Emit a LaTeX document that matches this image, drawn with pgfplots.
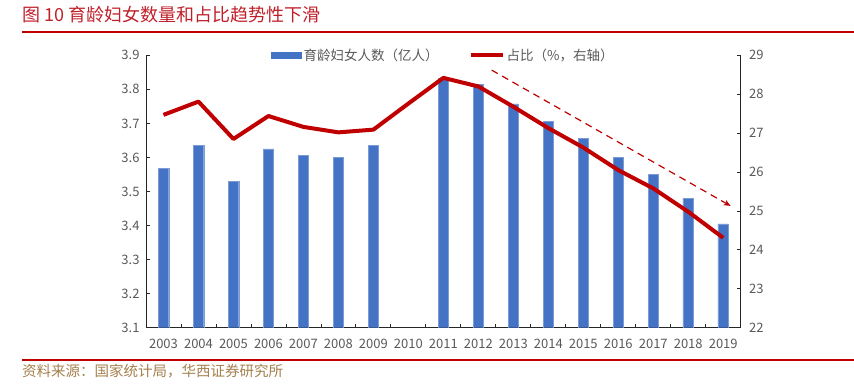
\documentclass[border=0pt]{standalone}
\usepackage{fontspec}
\setmainfont{Noto Sans CJK SC}
\usepackage{pgfplots}
\pgfplotsset{compat=1.18}
\usetikzlibrary{arrows.meta}
\definecolor{barblue}{HTML}{4472C4}
\definecolor{hxred}{HTML}{C00000}
\definecolor{titlered}{HTML}{C0202A}
\definecolor{ticktext}{HTML}{595959}
\definecolor{srcgold}{HTML}{A4804E}
\definecolor{axisgray}{HTML}{262626}
\begin{document}
\begin{tikzpicture}[x=1pt,y=1pt]
\useasboundingbox (0,0) rectangle (854,384);
\node[anchor=west, text=titlered, font=\fontsize{18}{18}\selectfont, inner sep=0] at (22,369.5) {图 10 育龄妇女数量和占比趋势性下滑};
\draw[hxred, line width=2.4pt] (22,352) -- (854,352);
\draw[hxred, line width=2.4pt] (22,24) -- (854,24);
\node[anchor=west, text=srcgold, font=\fontsize{14.5}{14.5}\selectfont, inner sep=0] at (22,13.3) {资料来源：国家统计局，华西证券研究所};

\pgfplotsset{
  common/.style={
    at={(146pt,56.3pt)}, anchor=south west, scale only axis,
    width=594.7pt, height=272.4pt,
    xmin=2002.5, xmax=2019.5,
    tick align=inside, major tick length=4pt, minor tick length=4pt,
    axis line style={axisgray, line width=1pt},
    tick style={axisgray, line width=0.8pt},
    ticklabel style={text=ticktext, font=\fontsize{13}{13}\selectfont},
    /pgf/number format/assume math mode=true,
  }
}

\begin{axis}[common,
  axis x line*=bottom, axis y line*=left,
  ymin=3.1, ymax=3.9,
  ytick={3.1,3.2,3.3,3.4,3.5,3.6,3.7,3.8,3.9},
  yticklabel style={/pgf/number format/.cd, fixed, fixed zerofill, precision=1},
  yticklabel shift=3pt,
  xtick={2003,2004,2005,2006,2007,2008,2009,2010,2011,2012,2013,2014,2015,2016,2017,2018,2019},
  xticklabel style={/pgf/number format/.cd, set thousands separator={}},
  minor xtick={2002.5,2003.5,...,2019.5},
  major x tick style={draw=none},
  xticklabel shift=8pt,
  ]
\addplot[ybar, bar width=10.5pt, fill=barblue, draw=barblue!70!white, line width=0.4pt] coordinates {
(2003,3.568) (2004,3.636) (2005,3.530) (2006,3.625) (2007,3.607) (2008,3.600) (2009,3.636)
(2011,3.833) (2012,3.814) (2013,3.757) (2014,3.707) (2015,3.657) (2016,3.600) (2017,3.550) (2018,3.480) (2019,3.405)
};
\end{axis}

\begin{axis}[common,
  axis x line=none, axis y line*=right,
  ymin=22, ymax=29,
  ytick={22,23,24,25,26,27,28,29},
  yticklabel shift=5pt,
  legend style={at={(0.5,1)}, anchor=center, draw=none, fill=none,
    legend columns=2, font=\fontsize{13.5}{13.5}\selectfont, text=ticktext,
    /tikz/every even column/.append style={column sep=28pt}},
  ]
\addlegendimage{legend image code/.code={\fill[barblue] (0pt,-3pt) rectangle (30pt,3pt);}}
\addlegendentry{育龄妇女人数（亿人）}
\addplot[hxred, line width=4pt, line join=round,
  legend image code/.code={\draw[hxred, line width=4pt] (0pt,0pt) -- (32pt,0pt);}] coordinates {
(2003,27.47) (2004,27.81) (2005,26.85) (2006,27.44) (2007,27.16) (2008,27.02) (2009,27.09)
(2010,27.76) (2011,28.42) (2012,28.20) (2013,27.68) (2014,27.13) (2015,26.63) (2016,26.05)
(2017,25.58) (2018,24.98) (2019,24.31)
};
\addlegendentry{占比（\%，右轴）}
\addplot[hxred, line width=1.2pt, dash pattern=on 7pt off 5pt, -{Stealth[length=7pt,width=6pt]}, forget plot] coordinates {
(2012.38,28.62) (2019.21,25.13)
};
\end{axis}
\end{tikzpicture}
\end{document}
